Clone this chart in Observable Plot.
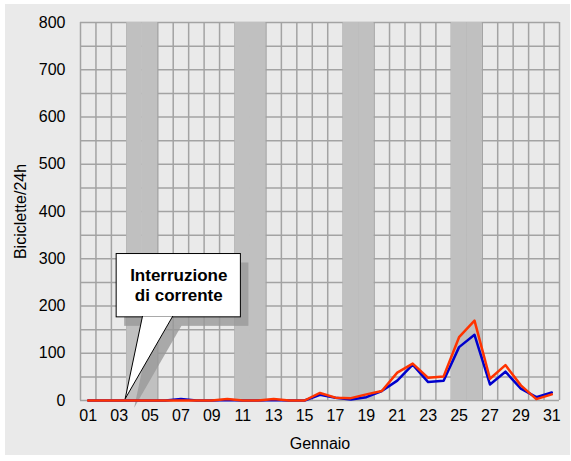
<!DOCTYPE html>
<html><head><meta charset="utf-8">
<script src="https://cdn.jsdelivr.net/npm/d3@7"></script>
<script src="https://cdn.jsdelivr.net/npm/@observablehq/plot@0.6"></script>
<style>
body{margin:0;background:#fff;}
#wrap{position:absolute;left:5px;top:4px;width:565px;height:451px;background:#eaeaea;}
#wrap svg{display:block;}
</style></head><body><div id="wrap"></div>
<script>
const days = d3.range(1, 32);
const dayLabels = days.map(d => String(d).padStart(2, "0"));
const blueValues = [0,0,0,0,0,0,3,0,0,1,0,0,1,0,0,12,6,2,7,20,42,76,39,42,113,139,34,61,25,7,17];
const redValues  = [0,0,0,0,0,0,0,0,0,3,0,0,3,0,0,16,6,5,13,20,59,78,48,51,134,169,46,75,32,3,13];
const weekendDays = [4,5,11,12,18,19,25,26];
const yTicks = [0,100,200,300,400,500,600,700,800];
const xTicks = days.filter(d => d % 2 === 1);
const calloutText = "Interruzione\ndi corrente";
const calloutBox = {x1: 2.84, x2: 10.88, y1: 176, y2: 310};
const calloutPointer = [{x: 4.51, y: 178}, {x: 3.39, y: 3.6}, {x: 6.46, y: 178}];
const calloutLabel = {x: 6.86, y: 245};

const rows = days.map((d, i) => ({day: d, blue: blueValues[i], red: redValues[i]}));
const font = '"Liberation Sans", Arial, sans-serif';

const chart = Plot.plot({
  width: 565, height: 451,
  marginLeft: 75, marginRight: 11, marginTop: 18, marginBottom: 55,
  style: {background: "transparent", fontSize: "16px", fontFamily: font, color: "#000"},
  x: {domain: [0.5, 31.5]},
  y: {domain: [0, 800]},
  marks: [
    Plot.ruleY(d3.range(0, 801, 50), {stroke: "#a3a3a3", strokeWidth: 1.5}),
    Plot.ruleX(d3.range(0.5, 32, 1), {stroke: "#a3a3a3", strokeWidth: 1.5}),
    Plot.rect(weekendDays, {x1: d => d - 0.5, x2: d => d + 0.5, y1: 0, y2: 800, fill: "#c0c0c0"}),
    Plot.axisX({ticks: xTicks, tickFormat: d => dayLabels[d - 1], tickSize: 0, tickPadding: 9, fontSize: 16,
      label: "Gennaio", labelAnchor: "center", labelOffset: 48, labelArrow: "none"}),
    Plot.axisY({ticks: yTicks, tickSize: 0, tickPadding: 15, fontSize: 16,
      label: "Biciclette/24h", labelAnchor: "center", labelOffset: 66, labelArrow: "none"}),
    Plot.rect([calloutBox], {x1: "x1", x2: "x2", y1: "y1", y2: "y2", fill: "#999", fillOpacity: 0.8, dx: 8, dy: 9}),
    Plot.line(calloutPointer, {x: "x", y: "y", fill: "#999", fillOpacity: 0.8, stroke: "none", dx: 9, dy: 9}),
    Plot.rect([calloutBox], {x1: "x1", x2: "x2", y1: "y1", y2: "y2", fill: "white", stroke: "black", strokeWidth: 1}),
    Plot.line(calloutPointer, {x: "x", y: "y", fill: "white", stroke: "black", strokeWidth: 1}),
    Plot.text([calloutText], {x: calloutLabel.x, y: calloutLabel.y, text: d => d, fontWeight: "bold", fontSize: 17, lineHeight: 1.2, lineAnchor: "middle"}),
    Plot.line(rows, {x: "day", y: "blue", stroke: "#0000cc", strokeWidth: 2.5}),
    Plot.line(rows, {x: "day", y: "red", stroke: "#ff3300", strokeWidth: 2.5})
  ]
});
document.getElementById("wrap").appendChild(chart);
</script></body></html>
